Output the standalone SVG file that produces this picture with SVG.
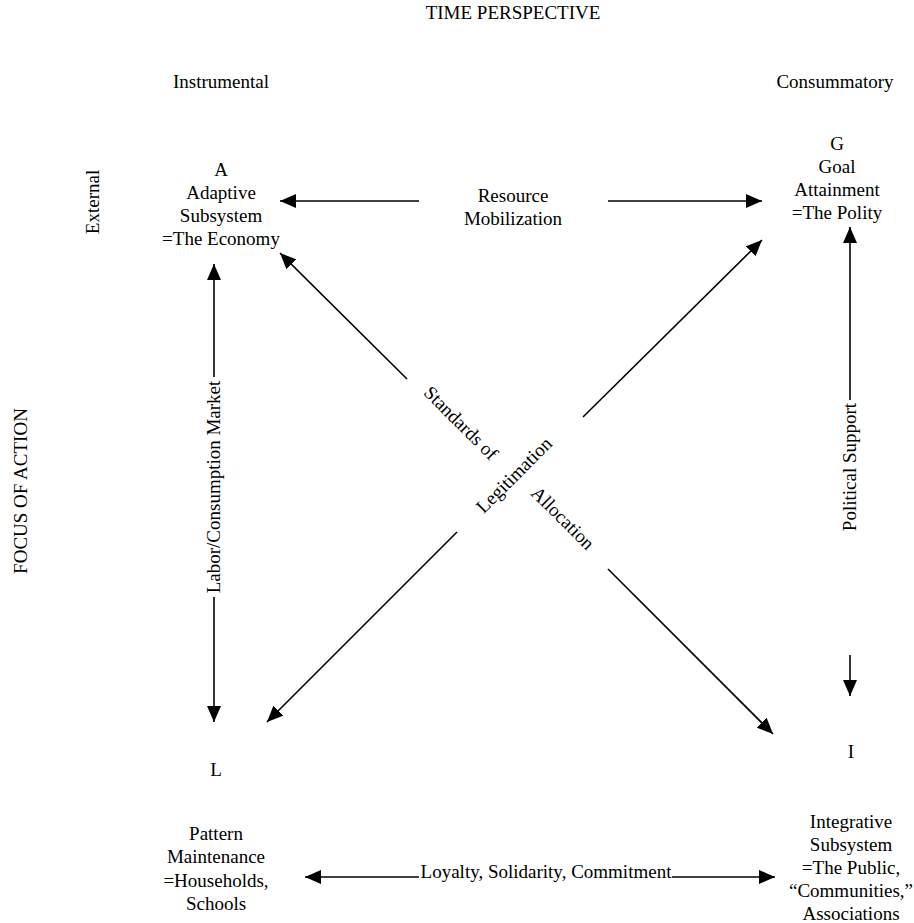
<svg xmlns="http://www.w3.org/2000/svg" width="914" height="923" viewBox="0 0 914 923">
<style>
text { font-family: "Liberation Serif", "Times New Roman", serif; font-size: 19px; fill: #000; text-anchor: middle; }
.ln { stroke: #000; stroke-width: 1.6; fill: none; }
.arr { marker-end: url(#ah); }
</style>
<defs>
<marker id="ah" viewBox="0 0 16 14" refX="16" refY="7" markerWidth="16" markerHeight="14" markerUnits="userSpaceOnUse" orient="auto">
<path d="M0,0 L16,7 L0,14 Z" fill="#000"/>
</marker>
</defs>
<rect width="914" height="923" fill="#fff"/>
<g id="axis-labels">
<text x="513" y="19">TIME PERSPECTIVE</text>
<text x="221" y="88">Instrumental</text>
<text x="835" y="88">Consummatory</text>
<text transform="translate(99,202) rotate(-90)" x="0" y="0">External</text>
<text transform="translate(27,491) rotate(-90)" x="0" y="0">FOCUS OF ACTION</text>
</g>
<g id="connectors">
<path class="ln arr" d="M419,201 L280,201"/>
<path class="ln arr" d="M608,201 L762,201"/>
<path class="ln arr" d="M850,400 L850,227"/>
<path class="ln arr" d="M850,655 L850,696"/>
<path class="ln arr" d="M214,377 L214,264"/>
<path class="ln arr" d="M214,597 L214,722"/>
<path class="ln arr" d="M407,379 L280,253"/>
<path class="ln arr" d="M583,417 L762,240"/>
<path class="ln arr" d="M457,532 L267,722"/>
<path class="ln arr" d="M608,569 L773,734"/>
<path class="ln arr" d="M419,877 L305,877"/>
<path class="ln arr" d="M672,877 L775,877"/>
</g>
<g id="edge-labels">
<g id="label-resource">
<text x="513" y="202">Resource</text>
<text x="513" y="225">Mobilization</text>
</g>
<text id="label-labor" transform="translate(220,487) rotate(-90)">Labor/Consumption Market</text>
<text id="label-political" transform="translate(856,467) rotate(-90)">Political Support</text>
<text id="label-standards" transform="translate(460,424) rotate(45)" y="5">Standards of</text>
<text id="label-legitimation" transform="translate(515,476) rotate(-45)" y="5">Legitimation</text>
<text id="label-allocation" transform="translate(562,519) rotate(45)" y="5">Allocation</text>
<text id="label-loyalty" x="546" y="878">Loyalty, Solidarity, Commitment</text>
</g>
<g id="node-A">
<text x="221" y="176">A</text>
<text x="221" y="199">Adaptive</text>
<text x="221" y="222">Subsystem</text>
<text x="221" y="245">=The Economy</text>
</g>
<g id="node-G">
<text x="837" y="150">G</text>
<text x="837" y="173">Goal</text>
<text x="837" y="196">Attainment</text>
<text x="837" y="219">=The Polity</text>
</g>
<g id="node-L">
<text x="216" y="776">L</text>
<text x="216" y="840">Pattern</text>
<text x="216" y="863">Maintenance</text>
<text x="216" y="887">=Households,</text>
<text x="216" y="910">Schools</text>
</g>
<g id="node-I">
<text x="851" y="758">I</text>
<text x="851" y="828">Integrative</text>
<text x="851" y="851">Subsystem</text>
<text x="851" y="874">=The Public,</text>
<text x="851" y="897">“Communities,”</text>
<text x="851" y="920">Associations</text>
</g>
</svg>
